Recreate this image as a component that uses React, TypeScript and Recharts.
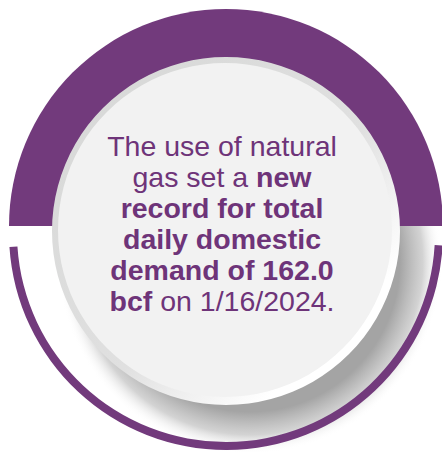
import React from 'react';
import { PieChart, Pie, Cell } from 'recharts';

// ---- data ----
const upperBand = [{ name: 'upper', value: 1 }];
const lowerArc = [{ name: 'lower', value: 1 }];
const discData = [{ name: 'disc', value: 1 }];
const recordDemandBcf = [162.0];
const recordDate = ['1/16/2024'];
const lines: { text: string; bold: boolean }[][] = [
  [{ text: 'The use of natural', bold: false }],
  [{ text: 'gas set a ', bold: false }, { text: 'new', bold: true }],
  [{ text: 'record for total', bold: true }],
  [{ text: 'daily domestic', bold: true }],
  [{ text: `demand of ${recordDemandBcf[0].toFixed(1)}`, bold: true }],
  [{ text: 'bcf', bold: true }, { text: ` on ${recordDate[0]}.`, bold: false }],
];

const PURPLE = '#723a7c';
const TEXT = '#6e3479';

const renderText = () => (
  <g>
    {lines.map((ln, i) => (
      <text
        key={i}
        x={222}
        y={156 + i * 31}
        textAnchor="middle"
        fontFamily="'Liberation Sans', Arial, sans-serif"
        fontSize={28.5}
        fill={TEXT}
      >
        {ln.map((s, j) => (
          <tspan key={j} fontWeight={s.bold ? 'bold' : 'normal'}>
            {s.text}
          </tspan>
        ))}
      </text>
    ))}
  </g>
);

export default function App() {
  return (
    <div style={{ position: 'absolute', left: 0, top: 0, width: 442, height: 452, background: '#fff' }}>
      <PieChart width={442} height={452} margin={{ top: 0, right: 0, bottom: 0, left: 0 }}>
        <defs>
          <radialGradient id="shadowGrad" cx="0.5" cy="0.5" r="0.5">
            <stop offset="0.78" stopColor="#a4a4a4" stopOpacity={1} />
            <stop offset="0.9" stopColor="#c8c8c8" stopOpacity={0.8} />
            <stop offset="1" stopColor="#ffffff" stopOpacity={0} />
          </radialGradient>
          <linearGradient id="rimGrad" x1="0" y1="0" x2="1" y2="1">
            <stop offset="0" stopColor="#d6d7d6" />
            <stop offset="0.55" stopColor="#e0e0e0" />
            <stop offset="0.8" stopColor="#ffffff" />
            <stop offset="1" stopColor="#ffffff" />
          </linearGradient>
        </defs>
        {/* cast shadow */}
        <Pie
          data={discData}
          dataKey="value"
          cx={250}
          cy={262}
          innerRadius={0}
          outerRadius={192}
          startAngle={0}
          endAngle={360}
          stroke="none"
          isAnimationActive={false}
        >
          <Cell fill="url(#shadowGrad)" />
        </Pie>
        {/* upper thick band */}
        <Pie
          data={upperBand}
          dataKey="value"
          cx={226}
          cy={226}
          innerRadius={0}
          outerRadius={217}
          startAngle={0}
          endAngle={180}
          stroke="none"
          isAnimationActive={false}
        >
          <Cell fill={PURPLE} />
        </Pie>
        {/* lower thin arc */}
        <Pie
          data={lowerArc}
          dataKey="value"
          cx={226}
          cy={233}
          innerRadius={209}
          outerRadius={217}
          startAngle={-3.3}
          endAngle={-176.3}
          stroke="none"
          isAnimationActive={false}
        >
          <Cell fill={PURPLE} />
        </Pie>
        {/* disc rim */}
        <Pie
          data={discData}
          dataKey="value"
          cx={226}
          cy={231}
          innerRadius={0}
          outerRadius={174}
          startAngle={0}
          endAngle={360}
          stroke="none"
          isAnimationActive={false}
        >
          <Cell fill="url(#rimGrad)" />
        </Pie>
        {/* disc face with text */}
        <Pie
          data={discData}
          dataKey="value"
          cx={225}
          cy={230}
          innerRadius={0}
          outerRadius={167}
          startAngle={0}
          endAngle={360}
          stroke="none"
          labelLine={false}
          label={renderText}
          isAnimationActive={false}
        >
          <Cell fill="#f2f2f2" />
        </Pie>
      </PieChart>
    </div>
  );
}
